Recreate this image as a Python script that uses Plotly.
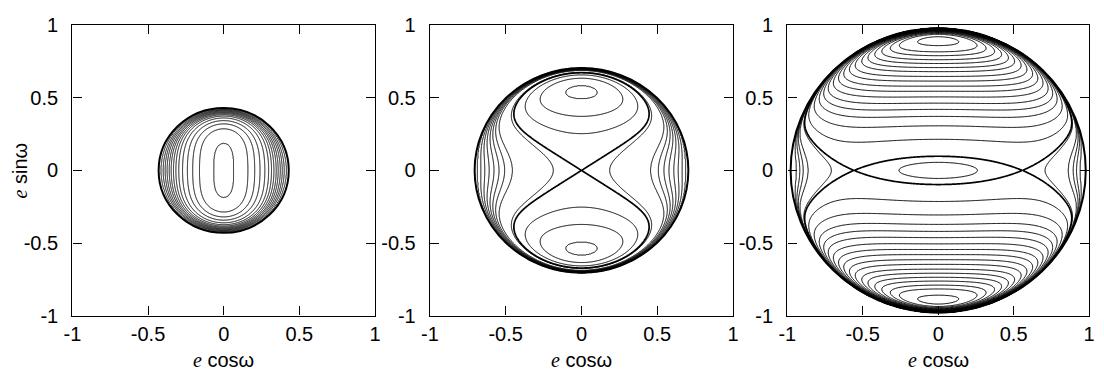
import numpy as np
import plotly.graph_objects as go

# Secular phase portraits in the (e cos w, e sin w) plane, one panel per
# value of the conserved angular momentum (i.e. of the limiting eccentricity).
E_MAX = [0.43, 0.705, 0.978]           # boundary circle e_max of each panel
COUPLING = [5.29, 1.0, 30.0]           # strength of the cos(2w) coupling term
RADIAL_POWER = [2.0, 2.0, 1.1]         # 1/(1-e^2)^p factor of the coupling term
APSE_COEFFS = [                        # H along w = 0, polynomial in e^2
    [-1.0, 0.577],
    [-0.15],
    [1.376, 0.0, -4.74],
]
HAS_SEPARATRIX = [False, True, True]

# eccentricities at which the drawn trajectories cross w = 0 ...
CROSS_APSE = [
    [0.067, 0.16, 0.205, 0.24, 0.272, 0.297, 0.316, 0.332, 0.347, 0.36,
     0.374, 0.387, 0.40, 0.413],
    [0.186, 0.457, 0.507, 0.544, 0.577, 0.609, 0.638, 0.664, 0.685],
    [0.26, 0.863, 0.895, 0.917, 0.939],
]
# ... and w = 90 deg
CROSS_PERP = [
    [],
    [0.253, 0.372, 0.492],
    [0.214, 0.307, 0.372, 0.420, 0.463, 0.506, 0.545, 0.580, 0.615, 0.647,
     0.680, 0.708, 0.736, 0.762, 0.790, 0.816, 0.859],
]

TICK_VALS = [-1, -0.5, 0, 0.5, 1]
TICK_TEXT = ["-1", "-0.5", "0", "0.5", "1"]

# panel placement (paper fractions)
X_DOMAINS = [[0.0582, 0.3361], [0.3865, 0.6649], [0.7147, 0.9918]]
Y_DOMAIN = [0.1654, 0.9612]
GRID_N = 360
FONT = "Liberation Sans, Arial, Helvetica"
FONT_SIZE = 20


def apse_part(u, coeffs):
    return sum(c * u ** (k + 1) for k, c in enumerate(coeffs))


def coupling_part(u, ey2, emax, g, p):
    ub = emax ** 2
    return g * (ub - u) * ey2 / (1.0 - u) ** p


def hamiltonian(ex, ey, emax, g, p, coeffs):
    ub = emax ** 2
    u = ex ** 2 + ey ** 2
    uc = np.minimum(u, ub)
    h = apse_part(uc, coeffs) + coupling_part(uc, np.minimum(ey ** 2, uc), emax, g, p)
    return np.where(u <= ub, h, apse_part(ub, coeffs))


def perp_profile(e, emax, g, p, coeffs):
    u = np.asarray(e, dtype=float) ** 2
    return apse_part(u, coeffs) + coupling_part(u, u, emax, g, p)


fig = go.Figure()
shapes = []
layout_axes = {}

for i in range(3):
    emax, g, p, coeffs = E_MAX[i], COUPLING[i], RADIAL_POWER[i], APSE_COEFFS[i]
    axis_id = "" if i == 0 else str(i + 1)
    xref, yref = "x" + axis_id, "y" + axis_id

    grid = np.linspace(-1.02 * emax, 1.02 * emax, GRID_N)
    gx, gy = np.meshgrid(grid, grid)
    H = hamiltonian(gx, gy, emax, g, p, coeffs)

    levels = [apse_part(e ** 2, coeffs) for e in CROSS_APSE[i]]
    levels += list(perp_profile(CROSS_PERP[i], emax, g, p, coeffs))
    levels = np.unique(np.round(np.array(levels, dtype=float), 10))

    # monotone relabelling so that the chosen levels become 0, 1, 2, ...
    lo = min(H.min(), levels.min()) - 1.0
    hi = max(H.max(), levels.max()) + 1.0
    xp = np.concatenate([[lo], levels, [hi]])
    fp = np.arange(-1, len(levels) + 1, dtype=float)
    z_idx = np.interp(H, xp, fp).astype(np.float32)

    fig.add_trace(go.Contour(
        x=grid, y=grid, z=z_idx,
        autocontour=False,
        contours=dict(start=0, end=len(levels) - 1, size=1, coloring="none"),
        line=dict(color="black", width=1, smoothing=0.8),
        showscale=False, hoverinfo="skip",
        xaxis=xref, yaxis=yref,
    ))

    if HAS_SEPARATRIX[i]:
        u1 = np.linspace(0.0, emax ** 2, 200001)
        sep = apse_part(u1, coeffs).max()
        fig.add_trace(go.Contour(
            x=grid, y=grid, z=(H - sep).astype(np.float32),
            autocontour=False,
            contours=dict(start=0, end=0.5, size=1, coloring="none"),
            line=dict(color="black", width=1.7, smoothing=0.5),
            showscale=False, hoverinfo="skip",
            xaxis=xref, yaxis=yref,
        ))

    shapes.append(dict(type="circle", xref=xref, yref=yref,
                       x0=-emax, x1=emax, y0=-emax, y1=emax,
                       line=dict(color="black", width=2)))

    common = dict(range=[-1, 1], tickvals=TICK_VALS, ticktext=TICK_TEXT,
                  ticks="inside", ticklen=9, tickwidth=1, tickcolor="black",
                  showline=True, linecolor="black", linewidth=1.4,
                  mirror="ticks", showgrid=False, zeroline=False,
                  tickfont=dict(family=FONT, size=FONT_SIZE, color="black"))
    layout_axes["xaxis" + axis_id] = dict(common, domain=X_DOMAINS[i],
                                          anchor=yref, ticklabelstandoff=0)
    layout_axes["yaxis" + axis_id] = dict(common, domain=Y_DOMAIN,
                                          anchor=xref, ticklabelstandoff=9)

E_SYM = '<span style="font-family:Liberation Serif"><i>e</i></span>'
annotations = []
for i in range(3):
    annotations.append(dict(
        text=E_SYM + " cosω", xref="paper", yref="paper",
        x=sum(X_DOMAINS[i]) / 2, y=0.044, showarrow=False, height=20,
        xanchor="center", yanchor="middle",
        font=dict(family=FONT, size=FONT_SIZE, color="black")))
annotations.append(dict(
    text=E_SYM + " sinω", xref="paper", yref="paper",
    x=0.0102, y=sum(Y_DOMAIN) / 2, showarrow=False, textangle=-90,
    height=20, xanchor="center", yanchor="middle",
    font=dict(family=FONT, size=FONT_SIZE, color="black")))

fig.update_layout(
    width=1104, height=387,
    margin=dict(l=0, r=0, t=0, b=0),
    paper_bgcolor="white", plot_bgcolor="white",
    showlegend=False, shapes=shapes, annotations=annotations,
    **layout_axes,
)

fig.write_html("out.html", config={"displayModeBar": False})
